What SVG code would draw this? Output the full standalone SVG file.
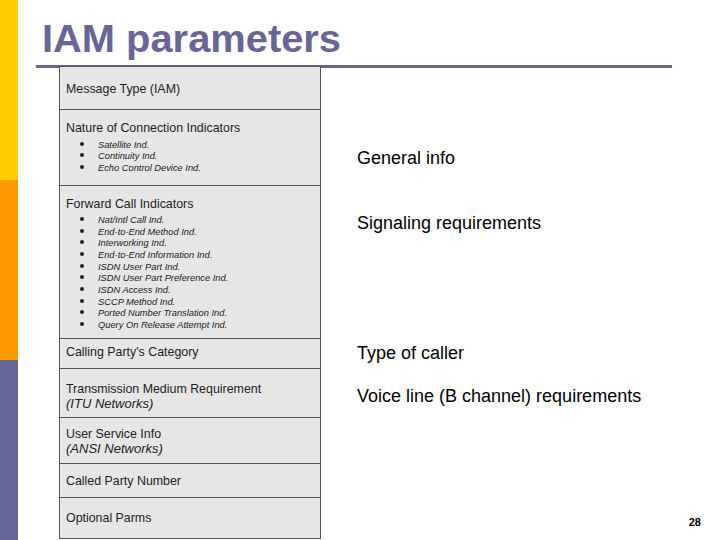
<svg xmlns="http://www.w3.org/2000/svg" width="720" height="540" viewBox="0 0 720 540">
<style>
.r{fill:#e6e6e6;stroke:#555;stroke-width:1}
.h{font-family:"Liberation Sans",Arial,sans-serif;font-size:12.4px;fill:#222}
.s{font-family:"Liberation Sans",Arial,sans-serif;font-size:9.3px;font-style:italic;fill:#222}
.b{fill:#222}
.i{font-family:"Liberation Sans",Arial,sans-serif;font-size:13px;font-style:italic;fill:#222}
.t{font-family:"Liberation Sans",Arial,sans-serif;font-size:18px;fill:#000}
</style>
<rect width="720" height="540" fill="#fff"/>
<rect x="0" y="0" width="18" height="180" fill="#ffcc00"/>
<rect x="0" y="180" width="18" height="180" fill="#ff9900"/>
<rect x="0" y="360" width="18" height="180" fill="#666699"/>
<text x="42" y="52" font-family="Liberation Sans,Arial,sans-serif" font-size="38" font-weight="bold" fill="#666699" textLength="299" lengthAdjust="spacingAndGlyphs">IAM parameters</text>
<line x1="36" y1="66.5" x2="672" y2="66.5" stroke="#666699" stroke-width="3"/>
<g id="table">
<g id="n1"><rect class="r" x="59.5" y="66.5" width="261" height="43"/><text class="h" x="66" y="93">Message Type (IAM)</text></g>
<g id="n2"><rect class="r" x="59.5" y="109.5" width="261" height="76"/><text class="h" x="66" y="132">Nature of Connection Indicators</text>
<g class="s"><text x="98" y="148">Satellite Ind.</text><text x="98" y="159">Continuity Ind.</text><text x="98" y="171">Echo Control Device Ind.</text></g>
<g class="b"><circle cx="82" cy="144" r="2"/><circle cx="82" cy="155" r="2"/><circle cx="82" cy="167" r="2"/></g></g>
<g id="n3"><rect class="r" x="59.5" y="185.5" width="261" height="153"/><text class="h" x="66" y="208">Forward Call Indicators</text>
<g class="s"><text x="98" y="223">Nat/Intl Call Ind.</text><text x="98" y="235">End-to-End Method Ind.</text><text x="98" y="246">Interworking Ind.</text><text x="98" y="258">End-to-End Information Ind.</text><text x="98" y="270">ISDN User Part Ind.</text><text x="98" y="281">ISDN User Part Preference Ind.</text><text x="98" y="293">ISDN Access Ind.</text><text x="98" y="305">SCCP Method Ind.</text><text x="98" y="316">Ported Number Translation Ind.</text><text x="98" y="328">Query On Release Attempt Ind.</text></g>
<g class="b"><circle cx="82" cy="219" r="2"/><circle cx="82" cy="231" r="2"/><circle cx="82" cy="242" r="2"/><circle cx="82" cy="254" r="2"/><circle cx="82" cy="266" r="2"/><circle cx="82" cy="277" r="2"/><circle cx="82" cy="289" r="2"/><circle cx="82" cy="301" r="2"/><circle cx="82" cy="312" r="2"/><circle cx="82" cy="324" r="2"/></g></g>
<g id="n4"><rect class="r" x="59.5" y="338.5" width="261" height="30"/><text class="h" x="66" y="356">Calling Party's Category</text></g>
<g id="n5"><rect class="r" x="59.5" y="368.5" width="261" height="49"/><text class="h" x="66" y="393">Transmission Medium Requirement</text><text class="i" x="66" y="408">(ITU Networks)</text></g>
<g id="n6"><rect class="r" x="59.5" y="417.5" width="261" height="46"/><text class="h" x="66" y="438">User Service Info</text><text class="i" x="66" y="453">(ANSI Networks)</text></g>
<g id="n7"><rect class="r" x="59.5" y="463.5" width="261" height="34"/><text class="h" x="66" y="485">Called Party Number</text></g>
<g id="n8"><rect class="r" x="59.5" y="497.5" width="261" height="41"/><text class="h" x="66" y="522">Optional Parms</text></g>
</g>
<g id="connectors"/>
<text class="t" x="357" y="164">General info</text>
<text class="t" x="357" y="229">Signaling requirements</text>
<text class="t" x="357" y="359">Type of caller</text>
<text class="t" x="357" y="402">Voice line (B channel) requirements</text>
<text x="701" y="526" text-anchor="end" font-family="Liberation Sans,Arial,sans-serif" font-size="11" font-weight="bold" fill="#000">28</text>
</svg>
